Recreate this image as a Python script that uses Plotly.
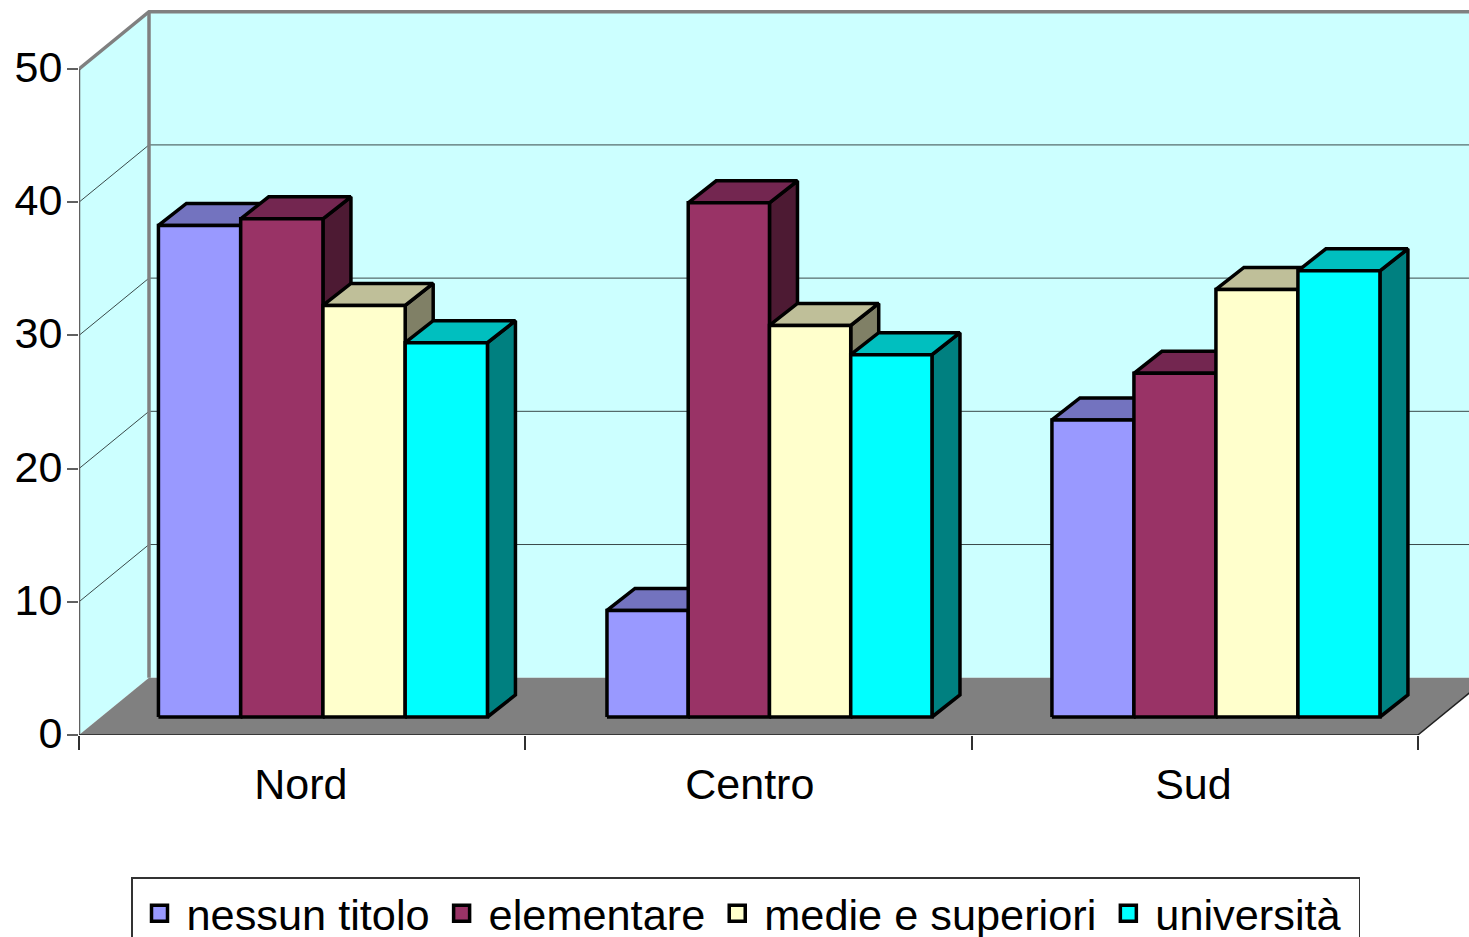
import plotly.graph_objects as go

categories = ["Nord", "Centro", "Sud"]
series_names = ["nessun titolo", "elementare", "medie e superiori", "università\u00a0"]
nessun_titolo = [36.9, 8.0, 22.3]
elementare = [37.4, 38.6, 25.8]
medie_superiori = [30.9, 29.4, 32.1]
universita = [28.1, 27.2, 33.5]
value_ticks = [0, 10, 20, 30, 40, 50]

front_colors = ["#9999FF", "#993366", "#FFFFCC", "#00FFFF"]
top_colors = ["#7373BF", "#732650", "#BFBF99", "#00BFBF"]
side_colors = ["#4D4D80", "#4D1A33", "#808066", "#008080"]

series = [nessun_titolo, elementare, medie_superiori, universita]

# layout geometry, in axis units
PX_X = 446.3
PX_Y = 13.32
W, H = 1469, 937
ML, MB = 79, 202
x_max = (W - ML) / PX_X
y_max = (H - MB) / PX_Y
WALL_DX, WALL_DY = 70 / PX_X, 4.3
BAR_DX, BAR_DY = 28 / PX_X, 22 / PX_Y
BASE = 18 / PX_Y
GROUP_START = [0.178, 1.183, 2.18]
GROUP_BAR_W = [82.25 / PX_X, 81.25 / PX_X, 82 / PX_X]

fig = go.Figure()


def poly(xs, ys, fill, line_color=None, line_w=0):
    fig.add_trace(go.Scatter(
        x=xs + xs[:1], y=ys + ys[:1], mode="lines", fill="toself", fillcolor=fill,
        line=dict(color=line_color or fill, width=line_w), showlegend=False,
        hoverinfo="skip"))


def line(xs, ys, color, width, clip=True):
    fig.add_trace(go.Scatter(
        x=xs, y=ys, mode="lines", line=dict(color=color, width=width),
        showlegend=False, hoverinfo="skip", cliponaxis=clip))


far = x_max + 1
top = value_ticks[-1]
# walls
poly([0, WALL_DX, WALL_DX, 0], [0, WALL_DY, top + WALL_DY, top], "#CCFFFF")
poly([WALL_DX, far, far, WALL_DX], [WALL_DY, WALL_DY, top + WALL_DY, top + WALL_DY], "#CCFFFF")
# floor
poly([0, 3, 3 + WALL_DX, WALL_DX], [0, 0, WALL_DY, WALL_DY], "#808080")
# gridlines
for v in value_ticks[1:-1]:
    line([0, WALL_DX, far], [v, v + WALL_DY, v + WALL_DY], "#3A4A4A", 1)
# wall edges
line([WALL_DX, WALL_DX], [WALL_DY, top + WALL_DY], "#808080", 3.5)
line([0, WALL_DX, far], [top, top + WALL_DY, top + WALL_DY], "#808080", 3.5)
# bars
for g in range(len(categories)):
    bw = GROUP_BAR_W[g]
    for s, vals in enumerate(series):
        x0 = GROUP_START[g] + s * bw
        x1 = x0 + bw
        y0 = BASE
        y1 = BASE + vals[g]
        poly([x1, x1 + BAR_DX, x1 + BAR_DX, x1], [y0, y0 + BAR_DY, y1 + BAR_DY, y1],
             side_colors[s], "black", 3.5)
        poly([x0, x1, x1 + BAR_DX, x0 + BAR_DX], [y1, y1, y1 + BAR_DY, y1 + BAR_DY],
             top_colors[s], "black", 3.5)
        poly([x0, x1, x1, x0], [y0, y0, y1, y1], front_colors[s], "black", 3.5)
# axis lines
line([0, 0], [0, top], "#606060", 2.5, clip=False)
line([0, 3], [0, 0], "#202020", 1.5, clip=False)
line([3, 3 + WALL_DX], [0, WALL_DY], "#202020", 1.5, clip=True)

# legend entries
for name, color in zip(series_names, front_colors):
    fig.add_trace(go.Scatter(
        x=[None], y=[None], mode="markers", name=name,
        marker=dict(symbol="square", size=16, color=color, line=dict(color="black", width=3.5))))

fig.update_layout(
    width=W, height=H,
    autosize=False,
    margin=dict(l=ML, r=0, t=0, b=MB, autoexpand=False),
    paper_bgcolor="white", plot_bgcolor="white",
    font=dict(family="Liberation Sans, Arial, sans-serif", size=43, color="black"),
    showlegend=True,
    legend=dict(
        orientation="h", x=(131 - ML) / (W - ML), y=(735 - 877) / 735,
        xanchor="left", yanchor="top", bordercolor="#333333", borderwidth=1.5,
        bgcolor="white", font=dict(size=43.3), itemsizing="trace", itemwidth=44,
        traceorder="normal"),
    xaxis=dict(
        range=[0, x_max], showgrid=False, zeroline=False, showline=False,
        tickmode="array", tickvals=[0.497, 1.503, 2.497], ticktext=categories,
        ticks="outside", ticklen=14, tickcolor="rgba(0,0,0,0)",
        ticklabelstandoff=-3,
        minor=dict(tickmode="array", tickvals=[0, 1, 2, 3], ticks="outside", ticklen=14,
                   tickcolor="#303030", tickwidth=1.5, showgrid=False),
        tickfont=dict(size=43)),
    yaxis=dict(
        range=[0, y_max], showgrid=False, zeroline=False, showline=False,
        tickmode="array", tickvals=value_ticks,
        ticks="outside", ticklen=11, tickcolor="#606060", tickwidth=1.5,
        ticklabelstandoff=-4, ticklabelshift=-2,
        tickfont=dict(size=43)),
)

fig.write_html("out.html", config={"displayModeBar": False},
               post_script="document.body.style.margin='0';")
